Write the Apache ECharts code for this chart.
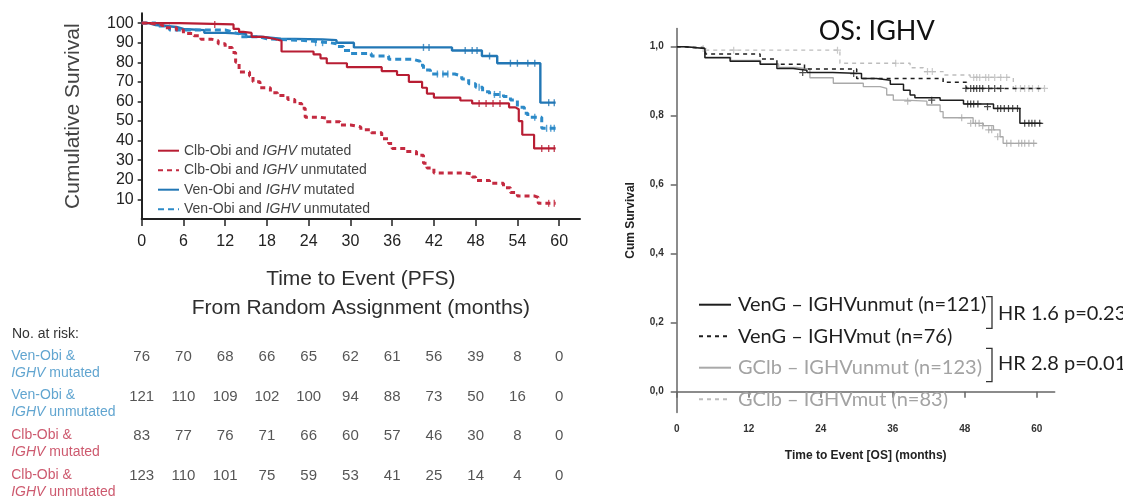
<!DOCTYPE html>
<html><head><meta charset="utf-8">
<script src="https://cdn.jsdelivr.net/npm/echarts@6/dist/echarts.min.js"></script>
<style>html,body{margin:0;padding:0;background:#fff}#c{width:1123px;height:499px}</style>
</head><body><div id="c"></div>
<script>
// ---------- PFS (left) ----------
const pfsXTicks = [0, 6, 12, 18, 24, 30, 36, 42, 48, 54, 60];
const pfsYTicks = [10, 20, 30, 40, 50, 60, 70, 80, 90, 100];
const pfsNames = ['Clb-Obi and IGHV mutated', 'Clb-Obi and IGHV unmutated', 'Ven-Obi and IGHV mutated', 'Ven-Obi and IGHV unmutated'];
const pfsClbMut = [[0,100],[5.5,99.3],[13.2,97],[14,95.5],[14.6,95],[15.8,93],[17.5,92],[19,91],[20.1,85.5],[24.7,84],[25.7,82],[26.6,79.5],[29.5,77.5],[34.5,75.5],[36.7,73.5],[38.4,70],[40.3,67],[41,64],[42,62],[45.8,60.5],[47.5,59],[52.8,57],[53.7,56],[54.2,50],[54.7,43],[56.4,36],[59.5,36]];
const pfsClbUnmut = [[0,100],[1,99],[3,97.6],[5,96.5],[6,94.7],[7.5,93.5],[8.5,91.8],[10,91],[11,89.5],[12,87.5],[13,85],[13.5,80],[14,75],[15.5,73],[16,70],[17,67],[18.5,64.5],[19.5,63],[21,61],[22,59],[23,56.5],[23.5,52],[25.5,51.5],[26.5,49.7],[28.5,48],[30,47],[31.5,45.5],[33,44],[34.5,41],[35.5,38.5],[36,36],[38,34.5],[39.5,32.5],[40.5,28.5],[41,26],[42,23.5],[46.5,23],[47.5,21.5],[48,19.6],[50,18.2],[52,16],[53,13.5],[54,11.7],[56.5,11],[57,8],[59.5,8]];
const pfsVenMut = [[0,100],[1,99],[2,98],[5,97],[6,96.4],[9,95],[12,94.5],[15,93],[17,92],[20,91.7],[26,91.3],[28,90],[30.5,87.6],[44.6,86],[48.9,83.2],[51.1,79.5],[57.3,59.4],[59.5,59.4]];
const pfsVenUnmut = [[0,100],[2,98.5],[4,96.5],[12,95.5],[13,94.5],[14,93],[17,92],[18,91],[24,90],[27,89.5],[28,88],[29,86],[30,84.5],[33,83.2],[35.5,81.5],[39,80.5],[40,78.5],[40.5,76],[41.5,74],[45,73],[46,71.4],[47,69],[48,67.2],[49,64.9],[50,63.6],[52,62.5],[53,60.7],[54,57],[55,54],[55.5,52],[57.5,46.3],[59.5,46.3]];
const pfsCensClbMut = [[10.5,99.3],[48.5,59],[49.5,59],[50.5,59],[51.5,59],[57.5,36],[58.5,36],[59.3,36]];
const pfsCensClbUnmut = [[58.5,8],[59.3,8]];
const pfsCensVenMut = [[40.5,87.6],[41.3,87.6],[46.5,86],[47.5,86],[48.2,86],[50,83.2],[53,79.5],[54,79.5],[55.5,79.5],[56.5,79.5],[58.5,59.4],[59.3,59.4]];
const pfsCensVenUnmut = [[25,90],[26,90],[42.5,74],[43.3,74],[44,74],[48.5,67.2],[50.7,63.6],[51.5,63.6],[56.5,52],[58.2,46.3],[58.8,46.3],[59.3,46.3]];

// ---------- Risk table ----------
const riskRows = ['Ven-Obi &|IGHV mutated', 'Ven-Obi &|IGHV unmutated', 'Clb-Obi &|IGHV mutated', 'Clb-Obi &|IGHV unmutated'];
const riskVenMut = [76, 70, 68, 66, 65, 62, 61, 56, 39, 8, 0];
const riskVenUnmut = [121, 110, 109, 102, 100, 94, 88, 73, 50, 16, 0];
const riskClbMut = [83, 77, 76, 71, 66, 60, 57, 46, 30, 8, 0];
const riskClbUnmut = [123, 110, 101, 75, 59, 53, 41, 25, 14, 4, 0];

// ---------- OS (right) ----------
const osXTicks = [0, 12, 24, 36, 48, 60];
const osYTicks = [0, 0.2, 0.4, 0.6, 0.8, 1.0];
const osNames = ['VenG – IGHVunmut (n=121)', 'VenG – IGHVmut (n=76)', 'GClb – IGHVunmut (n=123)', 'GClb – IGHVmut (n=83)'];
const osVenUnmut = [[0,1],[1.5,0.995],[4.7,0.968],[8.9,0.958],[13.9,0.949],[16.7,0.937],[19.4,0.932],[21.7,0.925],[26,0.922],[30.8,0.908],[33.3,0.903],[35.6,0.891],[37.8,0.874],[38.9,0.86],[39.7,0.852],[43.9,0.845],[47.8,0.834],[52.8,0.821],[57.2,0.778],[60.8,0.778]];
const osVenMut = [[0,1],[1,0.995],[4.8,0.979],[13.9,0.964],[16.7,0.949],[21.3,0.935],[30,0.908],[44.4,0.897],[48.3,0.879],[61.1,0.879]];
const osClbUnmut = [[0,1],[1.5,0.995],[4.7,0.97],[9,0.96],[14,0.95],[17,0.94],[20,0.935],[22.2,0.91],[26.1,0.894],[31.1,0.884],[33.9,0.879],[35,0.86],[36.1,0.845],[38,0.842],[41.7,0.831],[43.9,0.812],[44.4,0.794],[49.4,0.778],[51.1,0.771],[52.8,0.759],[53.9,0.739],[54.4,0.72],[60,0.72]];
const osClbMut = [[0,1],[4.4,0.99],[27.2,0.952],[38.9,0.939],[41.1,0.928],[44.4,0.918],[48.9,0.911],[56.1,0.879],[61.3,0.879]];
const osCensVenUnmut = [[21,0.925],[29.5,0.922],[42.5,0.845],[48.5,0.834],[49,0.834],[49.5,0.834],[50.2,0.834],[51.8,0.826],[53.5,0.821],[54,0.821],[54.6,0.821],[55.3,0.821],[56,0.821],[56.8,0.821],[58,0.778],[58.7,0.778],[59.2,0.778],[59.7,0.778],[60.5,0.778]];
const osCensVenMut = [[48.2,0.879],[49,0.879],[49.5,0.879],[50,0.879],[50.5,0.879],[51,0.879],[52,0.879],[53,0.879],[54,0.879]];
const osCensClbUnmut = [[38.5,0.842],[47.5,0.794],[49,0.778],[49.8,0.778],[50.4,0.778],[51,0.771],[52,0.759],[52.5,0.759],[53.5,0.739],[55,0.72],[55.7,0.72],[57,0.72],[57.5,0.72],[58,0.72],[58.7,0.72],[59.5,0.72]];
const osCensClbMut = [[4.4,0.995],[9.5,0.99],[26.8,0.99],[36.5,0.952],[41.8,0.928],[42.6,0.928],[49.5,0.911],[50,0.911],[50.5,0.911],[51.5,0.911],[52,0.911],[53,0.911],[54,0.911],[55,0.911],[56.5,0.879],[57.3,0.879],[58,0.879],[58.7,0.879],[59.3,0.879],[60.3,0.879],[61.3,0.879]];

// ---------- styling ----------
const RED = '#b81d33', RED2 = '#c42a40', BLUE = '#2277b5', BLUE2 = '#2c8ac8';
const BLK = '#1e1e1e', GRY = '#a9a9a9', GRY2 = '#bdbdbd';
const narrow = '"Liberation Sans Narrow", "Liberation Sans", Arial, sans-serif';
const sans = '"Liberation Sans", Arial, sans-serif';
const lato = 'Lato, "Open Sans", sans-serif';

function km(name, data, color, width, dash, idx, z) {
  return { type: 'line', name, data, step: 'end', symbol: 'none', showSymbol: false,
    xAxisIndex: idx, yAxisIndex: idx, z: z || 2, silent: true,
    lineStyle: { color, width, type: dash || 'solid' }, itemStyle: { color } };
}
function tick(data, color, idx) {
  return { type: 'scatter', data, xAxisIndex: idx, yAxisIndex: idx, symbol: 'rect', symbolSize: [1.4, 7],
    itemStyle: { color }, silent: true, z: 3 };
}
function cross(data, color, idx) {
  return { type: 'scatter', data, xAxisIndex: idx, yAxisIndex: idx, symbol: 'path://M0,5L10,5M5,0L5,10', symbolSize: 7,
    itemStyle: { color: 'none', borderColor: color, borderWidth: 1.2 }, silent: true, z: 3 };
}

const riskSets = [riskVenMut, riskVenUnmut, riskClbMut, riskClbUnmut];
const riskColors = ['b', 'b', 'r', 'r'];
const riskSeries = riskSets.map((vals, r) => ({
  type: 'scatter', xAxisIndex: 2, yAxisIndex: 2, symbolSize: 1, silent: true,
  itemStyle: { color: 'transparent' },
  data: pfsXTicks.map((t, i) => [t, r, vals[i]]),
  label: { show: true, position: 'inside', formatter: p => String(p.value[2]),
    color: '#2a2a2a', fontSize: 15, fontFamily: sans }
}));
const rowNameSeries = {
  type: 'scatter', xAxisIndex: 2, yAxisIndex: 2, symbolSize: 1, silent: true,
  itemStyle: { color: 'transparent' },
  data: riskRows.map((n, r) => [0, r]),
  label: { show: true, position: [-130, -9], align: 'left', verticalAlign: 'top',
    formatter: p => {
      const c = riskColors[p.dataIndex];
      const parts = riskRows[p.dataIndex].split('|');
      const l2 = parts[1].replace('IGHV', '');
      return '{' + c + '|' + parts[0] + '}\n{' + c + 'i|IGHV}{' + c + '|' + l2 + '}';
    },
    rich: {
      b: { color: '#3a8fc4', fontSize: 14, fontFamily: sans, lineHeight: 17 },
      bi: { color: '#3a8fc4', fontSize: 14, fontFamily: sans, fontStyle: 'italic', lineHeight: 17 },
      r: { color: '#c0304a', fontSize: 14, fontFamily: sans, lineHeight: 17 },
      ri: { color: '#c0304a', fontSize: 14, fontFamily: sans, fontStyle: 'italic', lineHeight: 17 }
    }
  }
};

const option = {
  animation: false,
  backgroundColor: '#fff',
  title: { text: 'OS: IGHV', left: 871.7, top: 13, textAlign: 'center',
    textStyle: { fontFamily: lato, fontSize: 27, fontWeight: 'normal', color: '#111' } },
  legend: [
    { data: pfsNames, left: 157, top: 143.7, orient: 'vertical', padding: 0, itemWidth: 21, itemHeight: 14, itemGap: 5.5,
      selectedMode: false, formatter: n => n.replace('IGHV', '{i|IGHV}'),
      itemStyle: { opacity: 0, borderWidth: 0 },
      textStyle: { fontFamily: sans, fontSize: 14, color: '#444',
        rich: { i: { fontFamily: sans, fontSize: 14, color: '#444', fontStyle: 'italic' } } } },
    { data: osNames.map((n, i) => ({ name: n, textStyle: { color: i < 2 ? '#1e1e1e' : '#a3a3a3' } })),
      left: 698, top: 294.7, orient: 'vertical', padding: 0, itemWidth: 32, itemHeight: 14, itemGap: 11.5,
      selectedMode: false, itemStyle: { opacity: 0, borderWidth: 0 },
      textStyle: { fontFamily: lato, fontSize: 20, padding: [0, 0, 0, 2] } }
  ],
  grid: [
    { left: 141.7, top: 13.3, width: 438.3, height: 205.7 },
    { left: 676.7, top: 28.4, width: 378, height: 384 },
    { left: 141.7, top: 336.8, width: 438.3, height: 159.2 }
  ],
  xAxis: [
    { gridIndex: 0, type: 'value', min: 0, max: 63,
      axisLine: { lineStyle: { color: '#222', width: 2 } },
      axisTick: { show: true, customValues: pfsXTicks, length: 7, lineStyle: { color: '#222', width: 1.5 } },
      axisLabel: { customValues: pfsXTicks, margin: 15, fontFamily: sans, fontSize: 16, color: '#222' },
      splitLine: { show: false },
      name: 'Time to Event (PFS)\nFrom Random Assignment (months)', nameLocation: 'middle', nameGap: 46,
      nameTextStyle: { fontFamily: narrow, fontSize: 21, color: '#2e2e2e', lineHeight: 29 } },
    { gridIndex: 1, type: 'value', min: 0, max: 63,
      axisLine: { lineStyle: { color: '#666', width: 1.5 } },
      axisTick: { show: true, customValues: osXTicks, length: 6, lineStyle: { color: '#666', width: 1.5 } },
      axisLabel: { customValues: osXTicks, margin: 12, fontFamily: sans, fontSize: 10, fontWeight: 'bold', color: '#333' },
      splitLine: { show: false },
      name: 'Time to Event [OS] (months)', nameLocation: 'middle', nameGap: 37,
      nameTextStyle: { fontFamily: sans, fontSize: 12, fontWeight: 'bold', color: '#222' } },
    { gridIndex: 2, type: 'value', min: 0, max: 63, show: false }
  ],
  yAxis: [
    { gridIndex: 0, type: 'value', min: 0, max: 105,
      axisLine: { show: true, lineStyle: { color: '#222', width: 2 } },
      axisTick: { show: true, customValues: pfsYTicks, length: 4, lineStyle: { color: '#222', width: 1.5 } },
      axisLabel: { customValues: pfsYTicks, margin: 8, fontFamily: sans, fontSize: 16, color: '#222' },
      splitLine: { show: false },
      name: 'Cumulative Survival', nameLocation: 'middle', nameGap: 58, nameRotate: 90,
      nameTextStyle: { fontFamily: narrow, fontSize: 21, color: '#444' } },
    { gridIndex: 1, type: 'value', min: -0.06, max: 1.053,
      axisLine: { show: true, lineStyle: { color: '#666', width: 1.5 } },
      axisTick: { show: true, customValues: osYTicks, length: 6, lineStyle: { color: '#666', width: 1.5 } },
      axisLabel: { customValues: osYTicks, margin: 13, fontFamily: sans, fontSize: 10, fontWeight: 'bold', color: '#333',
        formatter: v => Number(v).toFixed(1).replace('.', ',') },
      splitLine: { show: false },
      name: 'Cum Survival', nameLocation: 'middle', nameGap: 40, nameRotate: 90,
      nameTextStyle: { fontFamily: sans, fontSize: 12, fontWeight: 'bold', color: '#222' } },
    { gridIndex: 2, type: 'category', data: riskRows, inverse: true, show: false }
  ],
  graphic: [
    { type: 'text', left: 12, top: 327, style: { text: 'No. at risk:', fontFamily: sans, fontSize: 14, fill: '#333' } },
    { type: 'polyline', shape: { points: [[986, 296.7], [992, 296.7], [992, 328.3], [986, 328.3]] }, style: { stroke: '#333', lineWidth: 1.3, fill: 'none' } },
    { type: 'polyline', shape: { points: [[986, 348.3], [992, 348.3], [992, 381.7], [986, 381.7]] }, style: { stroke: '#333', lineWidth: 1.3, fill: 'none' } },
    { type: 'text', x: 998, y: 313.3, style: { text: 'HR 1.6 p=0.23', fontFamily: lato, fontSize: 20, fill: '#1e1e1e', textVerticalAlign: 'middle' } },
    { type: 'text', x: 998, y: 363.3, style: { text: 'HR 2.8 p=0.01', fontFamily: lato, fontSize: 20, fill: '#1e1e1e', textVerticalAlign: 'middle' } }
  ],
  series: [
    km(pfsNames[0], pfsClbMut, RED, 2.2, 'solid', 0, 4),
    km(pfsNames[1], pfsClbUnmut, RED2, 3, [5, 4], 0, 4),
    km(pfsNames[2], pfsVenMut, BLUE, 2.4, 'solid', 0, 3),
    km(pfsNames[3], pfsVenUnmut, BLUE2, 3, [6, 4], 0, 3),
    tick(pfsCensClbMut, RED, 0), tick(pfsCensClbUnmut, RED2, 0),
    tick(pfsCensVenMut, BLUE, 0), tick(pfsCensVenUnmut, BLUE2, 0),
    km(osNames[0], osVenUnmut, BLK, 1.5, 'solid', 1, 4),
    km(osNames[1], osVenMut, BLK, 1.5, [4, 4], 1, 4),
    km(osNames[2], osClbUnmut, GRY, 1.3, 'solid', 1, 3),
    km(osNames[3], osClbMut, GRY2, 1.3, [4, 4], 1, 3),
    cross(osCensVenUnmut, BLK, 1), cross(osCensVenMut, BLK, 1),
    cross(osCensClbUnmut, GRY, 1), cross(osCensClbMut, GRY2, 1),
    ...riskSeries, rowNameSeries
  ]
};
const chart = echarts.init(document.getElementById('c'), null, { renderer: 'canvas' });
chart.setOption(option);
</script></body></html>
